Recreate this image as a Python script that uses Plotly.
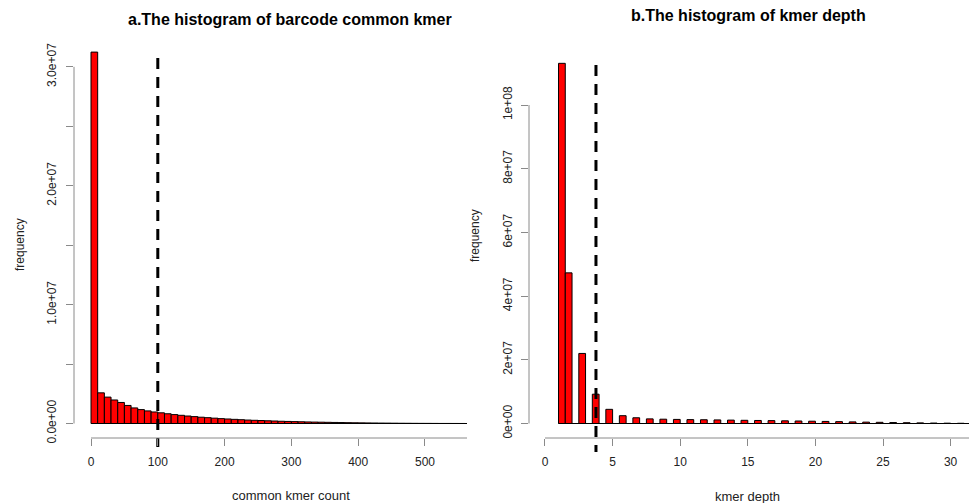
import numpy as np
import plotly.graph_objects as go

W, H = 969, 503

# ---- panel a: barcode common kmer histogram (bins of width 10) ----
kmer_bin_edges = list(range(0, 570, 10))
kmer_counts = [
    31.24e6, 2.58e6, 2.22e6, 1.98e6, 1.77e6, 1.52e6, 1.31e6, 1.17e6, 1.06e6, 0.97e6,
    0.90e6, 0.82e6, 0.75e6, 0.69e6, 0.63e6, 0.58e6, 0.53e6, 0.49e6, 0.45e6, 0.41e6,
    0.38e6, 0.35e6, 0.32e6, 0.29e6, 0.27e6, 0.25e6, 0.23e6, 0.21e6, 0.19e6, 0.175e6,
    0.16e6, 0.145e6, 0.13e6, 0.12e6, 0.11e6, 0.10e6, 0.09e6, 0.08e6, 0.07e6, 0.062e6,
    0.055e6, 0.048e6, 0.042e6, 0.036e6, 0.031e6, 0.026e6, 0.022e6, 0.018e6, 0.015e6, 0.012e6,
    0.010e6, 0.008e6, 0.006e6, 0.005e6, 0.004e6, 0.003e6,
]
kmer_cutoff = 100
kmer_xticks = [0, 100, 200, 300, 400, 500]
kmer_yticks = [0, 5e6, 10e6, 15e6, 20e6, 25e6, 30e6]
kmer_ytext = ["0.0e+00", "", "1.0e+07", "", "2.0e+07", "", "3.0e+07"]

# ---- panel b: kmer depth histogram (breaks every 0.5 starting at 1) ----
depth_values = list(range(1, 34))
depth_counts = [
    113.1e6, 47.3e6, 22.0e6, 9.2e6, 4.45e6, 2.45e6, 1.8e6, 1.45e6, 1.35e6, 1.28e6,
    1.22e6, 1.18e6, 1.12e6, 1.06e6, 1.0e6, 0.95e6, 0.9e6, 0.84e6, 0.78e6, 0.72e6,
    0.65e6, 0.58e6, 0.5e6, 0.43e6, 0.37e6, 0.3e6, 0.25e6, 0.19e6, 0.14e6, 0.1e6,
    0.07e6, 0.05e6, 0.03e6,
]
depth_cutoff = 3.77
depth_xticks = [0, 5, 10, 15, 20, 25, 30]
depth_yticks = [0, 2e7, 4e7, 6e7, 8e7, 1e8]
depth_ytext = ["0e+00", "2e+07", "4e+07", "6e+07", "8e+07", "1e+08"]


def px(x):
    return x / W


def py(y):
    return 1 - y / H


# bar geometry for panel a
a_left = np.array(kmer_bin_edges[:-1], dtype=float)
a_width = np.diff(kmer_bin_edges).astype(float)

# bar geometry for panel b: right-closed bins of width 0.5, first bin [1, 1.5]
b_left = np.array([1.0 if d == 1 else d - 0.5 for d in depth_values])
b_width = np.full(len(depth_values), 0.5)

# axis ranges (plot regions)
xr_a = [-25.45, 562.9]
yr_a = [-1.976e6, 32.51e6]
xr_b = [-1.183, 31.36]
yr_b = [-8.95e6, 117.6e6]

AXIS_GRAY = "#8a8a8a"
TXT = "#222222"
FONT = "Liberation Sans, Arial, sans-serif"

fig = go.Figure()

bar_style = dict(marker=dict(color="#ff0000", line=dict(color="#000000", width=1)),
                 showlegend=False, hoverinfo="skip")

fig.add_trace(go.Bar(x=a_left + a_width / 2, y=kmer_counts, width=a_width,
                     xaxis="x", yaxis="y", **bar_style))
fig.add_trace(go.Bar(x=b_left + b_width / 2, y=depth_counts, width=b_width,
                     xaxis="x2", yaxis="y2", **bar_style))

dash_style = dict(color="#000000", width=3, dash="11px,8px")
fig.add_trace(go.Scatter(x=[kmer_cutoff, kmer_cutoff], y=[30.75e6, yr_a[0]], mode="lines",
                         line=dash_style, xaxis="x", yaxis="y",
                         showlegend=False, hoverinfo="skip"))
fig.add_trace(go.Scatter(x=[depth_cutoff, depth_cutoff], y=[112.6e6, yr_b[0]], mode="lines",
                         line=dash_style, xaxis="x2", yaxis="y2",
                         showlegend=False, hoverinfo="skip"))

x_axis_y = py(438)

common_x = dict(showgrid=False, zeroline=False, showline=False, ticks="outside",
                ticklen=7, tickwidth=1, tickcolor=AXIS_GRAY,
                tickfont=dict(family=FONT, size=12, color=TXT),
                ticklabelstandoff=6,
                anchor="free", position=x_axis_y, fixedrange=True)
common_y = dict(showgrid=False, zeroline=False, showline=False, ticks="outside",
                ticklen=7, tickwidth=1, tickcolor=AXIS_GRAY,
                tickfont=dict(family=FONT, size=12, color=TXT),
                tickangle=-90, fixedrange=True)

fig.update_layout(
    width=W, height=H,
    margin=dict(l=0, r=0, t=0, b=0),
    paper_bgcolor="white", plot_bgcolor="white",
    barmode="overlay",
    xaxis=dict(domain=[px(74), px(467)], range=xr_a,
               tickmode="array", tickvals=kmer_xticks, **common_x),
    yaxis=dict(domain=[py(447), py(37)], range=yr_a, anchor="x",
               tickmode="array", tickvals=kmer_yticks, ticktext=kmer_ytext,
               ticklabelstandoff=5, **common_y),
    xaxis2=dict(domain=[px(529), 1.0], range=xr_b,
                tickmode="array", tickvals=depth_xticks, **common_x),
    yaxis2=dict(domain=[py(452), py(49)], range=yr_b, anchor="x2",
                tickmode="array", tickvals=depth_yticks, ticktext=depth_ytext,
                ticklabelstandoff=4, **common_y),
)

# R-style detached axis lines and bar baselines
shapes = [
    dict(type="line", xref="x", yref="paper", x0=0, x1=xr_a[1], y0=x_axis_y, y1=x_axis_y,
         line=dict(color=AXIS_GRAY, width=1)),
    dict(type="line", xref="paper", yref="y", x0=px(74), x1=px(74), y0=0, y1=kmer_yticks[-1],
         line=dict(color=AXIS_GRAY, width=1)),
    dict(type="line", xref="x", yref="y", x0=kmer_bin_edges[0], x1=xr_a[1], y0=0, y1=0,
         line=dict(color="#000000", width=1)),
    dict(type="line", xref="x2", yref="paper", x0=0, x1=xr_b[1], y0=x_axis_y, y1=x_axis_y,
         line=dict(color=AXIS_GRAY, width=1)),
    dict(type="line", xref="paper", yref="y2", x0=px(529), x1=px(529), y0=0, y1=depth_yticks[-1],
         line=dict(color=AXIS_GRAY, width=1)),
    dict(type="line", xref="x2", yref="y2", x0=1, x1=xr_b[1], y0=0, y1=0,
         line=dict(color="#000000", width=1)),
]
fig.update_layout(shapes=shapes)

title_font = dict(family=FONT, size=16, color="#000000")
label_font = dict(family=FONT, size=12, color=TXT)
xlabel_font = dict(family=FONT, size=13, color=TXT)
ann = [
    dict(text="<b>a.The histogram of barcode common kmer</b>", x=px(290), y=py(20),
         font=title_font),
    dict(text="<b>b.The histogram of kmer depth</b>", x=px(748), y=py(16),
         font=title_font),
    dict(text="common kmer count", x=px(291), y=py(495), font=xlabel_font),
    dict(text="kmer depth", x=px(747.5), y=py(496), font=xlabel_font),
    dict(text="frequency", x=px(20), y=py(245), font=label_font, textangle=-90),
    dict(text="frequency", x=px(475), y=py(236), font=label_font, textangle=-90),
]
for a in ann:
    a.update(xref="paper", yref="paper", showarrow=False, xanchor="center", yanchor="middle")
fig.update_layout(annotations=ann)

fig.write_html("out.html")
